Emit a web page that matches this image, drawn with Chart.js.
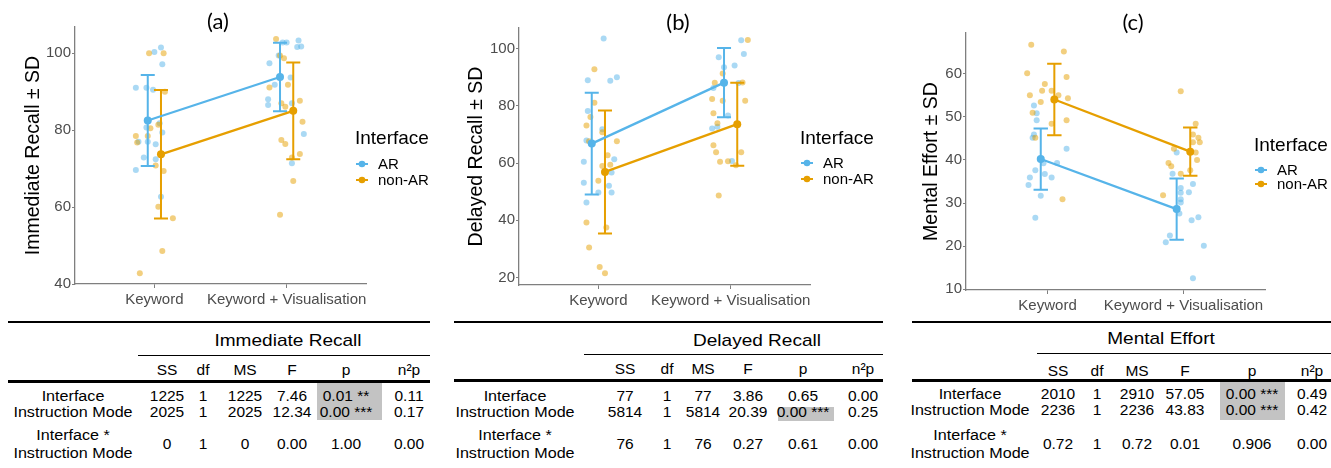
<!DOCTYPE html>
<html>
<head>
<meta charset="utf-8">
<script src="https://cdn.jsdelivr.net/npm/chart.js@4.4.1/dist/chart.umd.min.js"></script>
<style>
  body { margin: 0; background: #fff; width: 1331px; height: 468px; overflow: hidden; position: relative;
         font-family: "Liberation Sans", Arial, sans-serif; }
  canvas { position: absolute; top: 0; }
  .t { position: absolute; white-space: nowrap; line-height: 1; color: #000; font-size: 15.5px;
       transform: translate(-50%, -50%); }
  .t.lab { transform: translate(-50%, -50%) scaleX(1.04); }
  .t.head { font-size: 17px; transform: translate(-50%, -50%) scaleX(1.12); }
  .rule { position: absolute; background: #000; }
  .shade { position: absolute; background: #c3c3c3; }
</style>
</head>
<body>
<canvas id="chartA" width="440" height="310" style="left:0px"></canvas>
<canvas id="chartB" width="450" height="310" style="left:440px"></canvas>
<canvas id="chartC" width="441" height="313" style="left:890px"></canvas>
<div id="tables"></div>
<script>
// categories et groupes
const categories = ['Keyword', 'Keyword + Visualisation'];
const groups = ['AR', 'non-AR'];

// (a) Immediate Recall
const immediateTicks = [40, 60, 80, 100];
const immediateMeanAR = [82.5, 93.8];
const immediateSdAR = [11.8, 8.9];
const immediateMeanNonAR = [73.7, 85.0];
const immediateSdNonAR = [16.7, 12.6];
const immediatePointsAR = [
  [0.86, 91.0], [0.94, 91.0], [0.99, 90.5], [1.00, 100.3], [1.05, 101.5], [1.06, 97.1], [0.94, 80.7], [0.88, 77.0],
  [0.95, 77.0], [1.01, 76.3], [1.06, 79.4], [1.04, 81.8], [0.92, 72.9], [1.01, 72.4], [0.86, 69.6], [1.05, 62.7],
  [1.87, 97.4], [1.86, 88.0], [1.86, 86.5], [1.91, 91.8], [1.94, 99.4], [1.97, 102.8], [2.00, 102.8], [2.03, 93.7],
  [2.04, 87.0], [2.09, 103.3], [2.08, 101.6], [2.11, 101.7], [2.13, 79.0], [2.04, 71.4]
];
const immediatePointsNonAR = [
  [0.96, 100.0], [1.07, 100.0], [0.86, 78.5], [0.87, 76.8], [0.95, 78.5], [0.97, 80.5], [1.03, 81.4], [1.08, 90.0],
  [1.01, 70.8], [1.07, 69.4], [1.03, 60.1], [1.14, 57.1], [1.06, 48.6], [0.89, 42.8],
  [1.92, 103.7], [1.87, 91.1], [1.95, 99.4], [1.98, 98.7], [1.96, 87.0], [1.99, 86.1], [2.01, 91.8], [2.10, 87.6],
  [2.12, 82.2], [1.96, 77.4], [1.99, 76.4], [2.04, 72.9], [2.10, 73.8], [2.05, 66.8], [1.95, 58.0]
];

// (b) Delayed Recall
const delayedTicks = [20, 40, 60, 80, 100];
const delayedMeanAR = [66.8, 88.1];
const delayedSdAR = [17.8, 12.1];
const delayedMeanNonAR = [56.9, 73.6];
const delayedSdNonAR = [21.5, 14.5];
const delayedPointsAR = [
  [1.04, 103.5], [0.92, 88.9], [1.09, 88.8], [1.14, 90.0], [0.92, 78.2], [0.91, 67.9], [1.03, 71.8], [0.89, 60.5],
  [1.12, 61.3], [1.10, 56.7], [0.89, 53.1], [1.08, 52.1], [1.00, 49.7], [1.10, 49.7], [0.91, 46.2],
  [1.91, 97.0], [1.95, 93.5], [2.03, 94.1], [2.10, 98.1], [2.08, 102.9], [1.87, 86.2], [1.98, 76.6], [1.86, 72.1],
  [1.90, 72.7], [2.01, 60.7], [2.06, 88.0]
];
const delayedPointsNonAR = [
  [0.97, 92.8], [0.97, 81.1], [0.94, 76.1], [0.91, 73.1], [0.93, 67.6], [1.03, 70.8], [1.14, 67.6], [1.07, 62.7],
  [1.03, 59.0], [1.09, 59.4], [1.00, 53.8], [0.91, 39.2], [1.06, 37.5], [0.93, 30.5], [1.01, 23.7], [1.05, 21.5],
  [2.13, 103.0], [1.94, 91.3], [1.88, 88.1], [2.09, 88.2], [1.86, 82.4], [1.94, 81.8], [2.11, 81.8], [1.87, 77.4],
  [1.90, 73.9], [1.87, 66.2], [1.89, 63.8], [2.08, 63.8], [1.92, 60.5], [1.98, 60.6], [2.04, 59.2], [1.91, 48.7]
];

// (c) Mental Effort
const effortTicks = [10, 20, 30, 40, 50, 60];
const effortMeanAR = [40.2, 28.6];
const effortSdAR = [7.1, 7.1];
const effortMeanNonAR = [54.0, 41.9];
const effortSdNonAR = [8.3, 5.6];
const effortPointsAR = [
  [0.90, 52.6], [0.92, 50.8], [0.92, 49.2], [0.90, 45.9], [0.89, 45.1], [0.97, 39.2], [1.07, 39.3], [0.91, 37.6],
  [0.98, 36.7], [1.03, 35.9], [0.87, 35.9], [0.86, 34.2], [0.95, 31.7], [0.91, 26.6], [1.14, 42.6],
  [1.95, 41.7], [1.92, 36.8], [1.98, 33.5], [1.98, 32.4], [2.04, 32.5], [2.07, 34.4], [1.98, 30.9], [1.98, 30.1],
  [1.97, 27.6], [2.06, 26.0], [2.11, 26.7], [1.90, 22.5], [1.87, 20.9], [2.15, 20.1], [2.07, 12.6]
];
const effortPointsNonAR = [
  [0.88, 66.7], [1.12, 65.1], [0.85, 60.1], [1.14, 59.2], [0.98, 57.6], [0.87, 55.0], [0.96, 56.0], [1.03, 56.0],
  [1.08, 55.0], [1.15, 54.3], [0.95, 53.4], [0.89, 50.9], [1.03, 48.4], [1.14, 49.2], [0.91, 45.1], [1.11, 30.9],
  [1.98, 55.9], [2.09, 48.4], [2.07, 45.9], [2.11, 45.1], [2.12, 44.1], [2.07, 44.1], [1.93, 42.6], [2.09, 41.7],
  [2.10, 40.0], [1.89, 39.3], [1.91, 38.5], [1.98, 36.8], [2.05, 37.6], [1.85, 31.8]
];

// tableaux ANOVA
const tableColumns = ['SS', 'df', 'MS', 'F', 'p', 'n²p'];
const tableRows = ['Interface', 'Instruction Mode', 'Interface *|Instruction Mode'];
const immediateTable = [
  ['1225', '1', '1225', '7.46', '0.01 **', '0.11'],
  ['2025', '1', '2025', '12.34', '0.00 ***', '0.17'],
  ['0', '1', '0', '0.00', '1.00', '0.00']
];
const delayedTable = [
  ['77', '1', '77', '3.86', '0.65', '0.00'],
  ['5814', '1', '5814', '20.39', '0.00 ***', '0.25'],
  ['76', '1', '76', '0.27', '0.61', '0.00']
];
const effortTable = [
  ['2010', '1', '2910', '57.05', '0.00 ***', '0.49'],
  ['2236', '1', '2236', '43.83', '0.00 ***', '0.42'],
  ['0.72', '1', '0.72', '0.01', '0.906', '0.00']
];

const BLUE = '#56B4E9';
const ORANGE = '#E69F00';
const FONT = '"Liberation Sans", Arial, sans-serif';
const DODGE = 0.05;
const CAP = 0.053;

Chart.defaults.font.family = FONT;
Chart.defaults.animation = false;

const toPts = arr => arr.map(p => ({ x: p[0], y: p[1] }));
const meanPts = (means, dx) => means.map((m, i) => ({ x: i + 1 + dx, y: m }));
function errorPts(means, sds, dx) {
  const out = [];
  means.forEach((m, i) => {
    const x = i + 1 + dx, hi = m + sds[i], lo = m - sds[i];
    out.push({ x: x - CAP, y: hi }, { x: x + CAP, y: hi }, { x: x, y: null },
             { x: x, y: hi }, { x: x, y: lo }, { x: x, y: null },
             { x: x - CAP, y: lo }, { x: x + CAP, y: lo }, { x: x, y: null });
  });
  return out;
}

// titre du panneau + légende "Interface"
const panelDeco = {
  id: 'panelDeco',
  afterDraw(chart, args, o) {
    const ctx = chart.ctx;
    ctx.save();
    ctx.fillStyle = '#000';
    ctx.textBaseline = 'middle';
    ctx.textAlign = 'center';
    ctx.font = '22px Lato, ' + FONT;
    ctx.fillText(o.title, o.tx, o.ty);
    ctx.textAlign = 'left';
    ctx.font = '19px ' + FONT;
    ctx.fillText('Interface', o.lx, o.ly);
    ctx.font = '15px ' + FONT;
    [BLUE, ORANGE].forEach((col, i) => {
      const y = o.ky[i];
      ctx.strokeStyle = col;
      ctx.fillStyle = col;
      ctx.lineWidth = 2;
      ctx.beginPath(); ctx.moveTo(o.kx - 6, y); ctx.lineTo(o.kx + 6, y); ctx.stroke();
      ctx.beginPath(); ctx.arc(o.kx, y, 3.3, 0, Math.PI * 2); ctx.fill();
      ctx.fillStyle = '#000';
      ctx.fillText(groups[i], o.kx + 16, y + 1);
    });
    ctx.restore();
  }
};

function buildPanel(id, p) {
  const datasets = [
    { data: toPts(p.ptsAR), backgroundColor: 'rgba(86,180,233,0.5)', pointRadius: 3, pointBorderWidth: 0, order: 6 },
    { data: toPts(p.ptsNon), backgroundColor: 'rgba(230,159,0,0.5)', pointRadius: 3, pointBorderWidth: 0, order: 5 },
    { data: errorPts(p.meanAR, p.sdAR, -DODGE), showLine: true, spanGaps: false, borderColor: BLUE, borderWidth: 2, pointRadius: 0, order: 4 },
    { data: errorPts(p.meanNon, p.sdNon, DODGE), showLine: true, spanGaps: false, borderColor: ORANGE, borderWidth: 2, pointRadius: 0, order: 3 },
    { data: meanPts(p.meanAR, -DODGE), showLine: true, borderColor: BLUE, borderWidth: 2.3, pointRadius: 4, pointBorderWidth: 0, backgroundColor: BLUE, order: 2 },
    { data: meanPts(p.meanNon, DODGE), showLine: true, borderColor: ORANGE, borderWidth: 2.3, pointRadius: 4, pointBorderWidth: 0, backgroundColor: ORANGE, order: 1 }
  ];
  new Chart(document.getElementById(id), {
    type: 'scatter',
    data: { datasets },
    options: {
      responsive: false,
      devicePixelRatio: 1,
      events: [],
      layout: { padding: { left: 0, top: p.top, right: p.right, bottom: 0 } },
      plugins: { legend: { display: false }, tooltip: { enabled: false }, panelDeco: p.deco },
      scales: {
        x: {
          type: 'linear', min: 0.4, max: 2.6,
          afterBuildTicks: s => { s.ticks = categories.map((c, i) => ({ value: i + 1 })); },
          afterFit: s => { s.height = p.xh; },
          ticks: { callback: v => categories[Math.round(v) - 1], color: '#4D4D4D', font: { size: 15 },
                   padding: 3, maxRotation: 0, autoSkip: false },
          grid: { drawOnChartArea: false, drawTicks: true, tickLength: 4, color: '#7F7F7F' },
          border: { color: '#7F7F7F', width: 1.3 }
        },
        y: {
          min: p.ymin, max: p.ymax,
          afterBuildTicks: s => { s.ticks = p.ticks.map(v => ({ value: v })); },
          afterFit: s => { s.width = p.yw; },
          ticks: { color: '#4D4D4D', font: { size: 15 }, padding: 1 },
          grid: { drawOnChartArea: false, drawTicks: true, tickLength: 3, color: '#7F7F7F' },
          border: { color: '#7F7F7F', width: 1.3 },
          title: { display: true, text: p.ytitle, color: '#000', font: { size: 19.5 }, padding: { top: p.ytp, bottom: 0 } }
        }
      }
    },
    plugins: [panelDeco]
  });
}

buildPanel('chartA', {
  ptsAR: immediatePointsAR, ptsNon: immediatePointsNonAR,
  meanAR: immediateMeanAR, sdAR: immediateSdAR, meanNon: immediateMeanNonAR, sdNon: immediateSdNonAR,
  ticks: immediateTicks, ymin: 40, ymax: 106.8, ytitle: 'Immediate Recall ± SD',
  top: 27, right: 74, xh: 26, yw: 75, ytp: 22,
  deco: { title: '(a)', tx: 218, ty: 22, lx: 355, ly: 139, kx: 362, ky: [164, 180] }
});
buildPanel('chartB', {
  ptsAR: delayedPointsAR, ptsNon: delayedPointsNonAR,
  meanAR: delayedMeanAR, sdAR: delayedSdAR, meanNon: delayedMeanNonAR, sdNon: delayedSdNonAR,
  ticks: delayedTicks, ymin: 17.4, ymax: 107.2, ytitle: 'Delayed Recall ± SD',
  top: 28, right: 80, xh: 25, yw: 79, ytp: 25,
  deco: { title: '(b)', tx: 238, ty: 23, lx: 360, ly: 139, kx: 367, ky: [163, 179] }
});
buildPanel('chartC', {
  ptsAR: effortPointsAR, ptsNon: effortPointsNonAR,
  meanAR: effortMeanAR, sdAR: effortSdAR, meanNon: effortMeanNonAR, sdNon: effortSdNonAR,
  ticks: effortTicks, ymin: 9.85, ymax: 69.4, ytitle: 'Mental Effort ± SD',
  top: 33, right: 66, xh: 23, yw: 76, ytp: 30,
  deco: { title: '(c)', tx: 243, ty: 23, lx: 364, ly: 146, kx: 371, ky: [170, 184] }
});

// tableaux sous les graphiques
function buildTable(title, values, L) {
  const root = document.getElementById('tables');
  const el = (cls, css, html) => {
    const d = document.createElement('div');
    d.className = cls; d.style.cssText = css;
    if (html !== undefined) d.innerHTML = html;
    root.appendChild(d);
  };
  L.shades.forEach(s => el('shade', `left:${s[0]}px;top:${s[1]}px;width:${s[2] - s[0]}px;height:${s[3] - s[1]}px`));
  el('rule', `left:${L.x0}px;top:${L.top - 1}px;width:${L.x1 - L.x0}px;height:2px`);
  el('rule', `left:${L.xg}px;top:${L.mid}px;width:${L.x1 - L.xg}px;height:1.3px`);
  el('rule', `left:${L.x0}px;top:${L.head - 1.5}px;width:${L.x1 - L.x0}px;height:3px`);
  el('t head', `left:${L.titleX}px;top:${L.titleY}px`, title);
  tableColumns.forEach((c, j) => el('t', `left:${L.cols[j]}px;top:${L.hy}px`, c));
  tableRows.forEach((r, i) => {
    const parts = r.split('|');
    if (parts.length === 1) el('t lab', `left:${L.lab}px;top:${L.rows[i]}px`, parts[0]);
    else parts.forEach((t, k) => el('t lab', `left:${L.lab}px;top:${L.rows[i] + (k ? 9 : -9)}px`, t));
    values[i].forEach((v, j) => el('t', `left:${L.cols[j]}px;top:${L.rows[i]}px`, v));
  });
}

buildTable('Immediate Recall', immediateTable, {
  x0: 8, x1: 430, xg: 138, top: 322, mid: 354.5, head: 381,
  titleX: 288, titleY: 340, hy: 370, lab: 73, rows: [396, 412, 444],
  cols: [167, 203, 245, 292, 346, 409], shades: [[317, 383, 382, 420]]
});
buildTable('Delayed Recall', delayedTable, {
  x0: 454, x1: 883, xg: 584, top: 322, mid: 354, head: 380,
  titleX: 757, titleY: 340, hy: 369, lab: 515, rows: [396, 412, 444],
  cols: [625, 667, 703, 748, 803, 863], shades: [[778, 407, 834, 421]]
});
buildTable('Mental Effort', effortTable, {
  x0: 912, x1: 1331, xg: 1037, top: 322, mid: 353, head: 380,
  titleX: 1161, titleY: 338, hy: 371, lab: 970, rows: [394, 410, 444],
  cols: [1058, 1097, 1137, 1185, 1252, 1312], shades: [[1220, 381, 1285, 420]]
});
</script>
</body>
</html>
